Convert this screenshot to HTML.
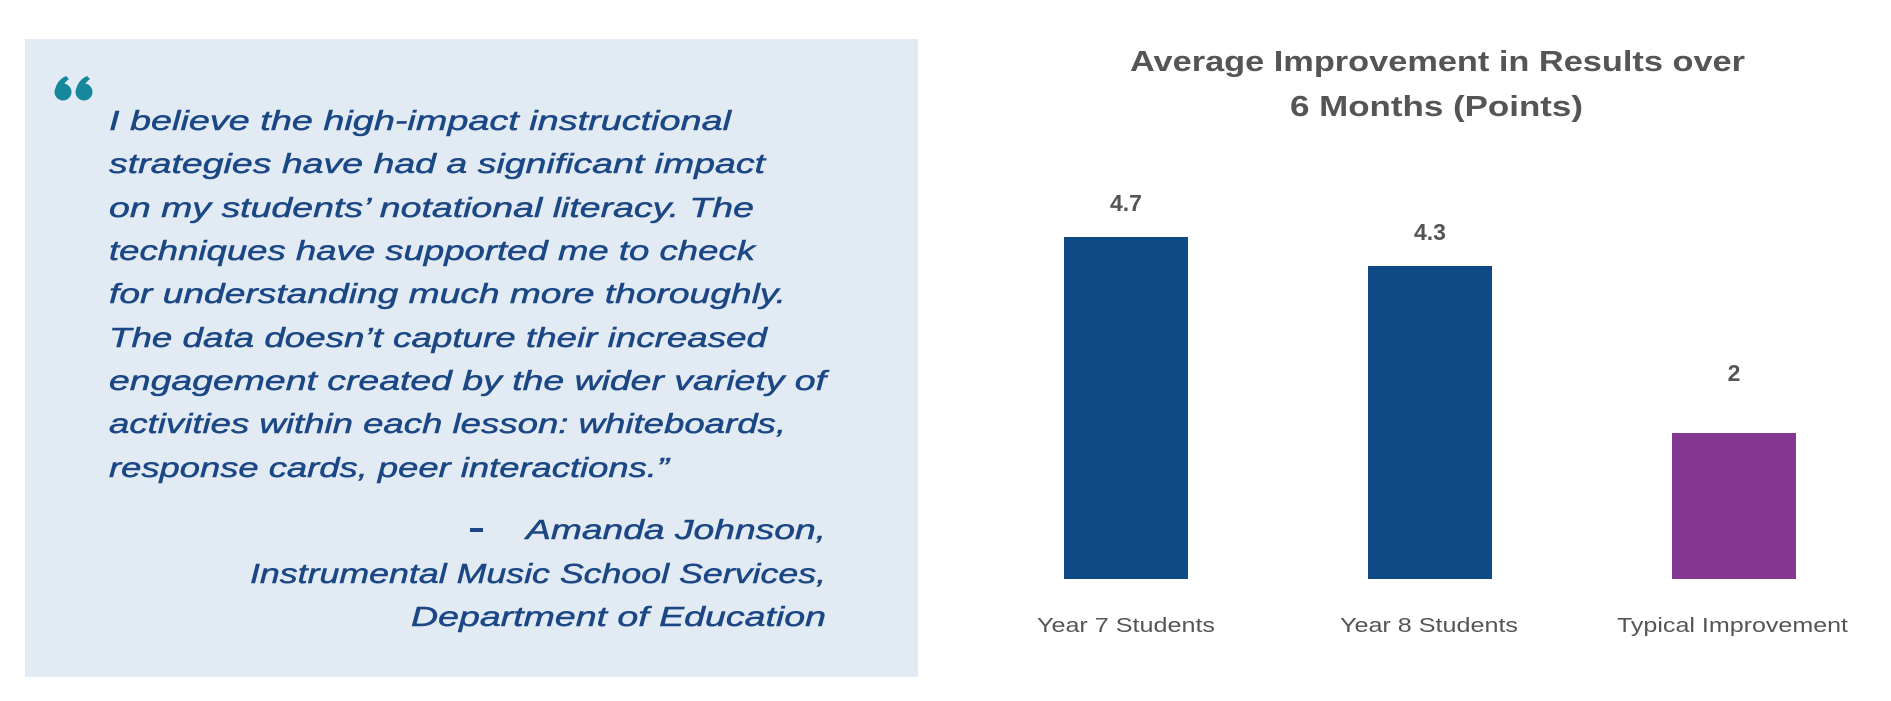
<!DOCTYPE html>
<html><head><meta charset="utf-8"><style>html,body{margin:0;padding:0;background:#fff}svg{display:block}</style></head><body>
<svg width="1891" height="701" viewBox="0 0 1891 701" xmlns="http://www.w3.org/2000/svg">
<rect x="25" y="39" width="893" height="638" fill="#e2ebf3"/>
<g fill="#17879c">
<circle cx="63" cy="92" r="8.5"/>
<path d="M55 90 Q57 80 66 76 L69 79 Q63 83 62 90 Z"/>
<circle cx="84" cy="92" r="8.5"/>
<path d="M76 90 Q78 80 87 76 L90 79 Q84 83 83 90 Z"/>
</g>
<g font-family="Liberation Sans, sans-serif" font-style="italic" font-size="28" fill="#1b4785" stroke="#1b4785" stroke-width="0.5">
<text x="109" y="130" textLength="622" lengthAdjust="spacingAndGlyphs">I believe the high-impact instructional</text>
<text x="109" y="173" textLength="656" lengthAdjust="spacingAndGlyphs">strategies have had a significant impact</text>
<text x="109" y="217" textLength="645" lengthAdjust="spacingAndGlyphs">on my students’ notational literacy. The</text>
<text x="109" y="260" textLength="646" lengthAdjust="spacingAndGlyphs">techniques have supported me to check</text>
<text x="109" y="303" textLength="677" lengthAdjust="spacingAndGlyphs">for understanding much more thoroughly.</text>
<text x="109" y="347" textLength="658" lengthAdjust="spacingAndGlyphs">The data doesn’t capture their increased</text>
<text x="109" y="390" textLength="717" lengthAdjust="spacingAndGlyphs">engagement created by the wider variety of</text>
<text x="109" y="433" textLength="677" lengthAdjust="spacingAndGlyphs">activities within each lesson: whiteboards,</text>
<text x="109" y="477" textLength="560" lengthAdjust="spacingAndGlyphs">response cards, peer interactions.”</text>
<text x="526" y="539" textLength="300" lengthAdjust="spacingAndGlyphs">Amanda Johnson,</text>
<text x="250" y="583" textLength="576" lengthAdjust="spacingAndGlyphs">Instrumental Music School Services,</text>
<text x="411" y="626" textLength="415" lengthAdjust="spacingAndGlyphs">Department of Education</text>
</g>
<rect x="470" y="528" width="13" height="4" fill="#1b4785"/>
<g font-family="Liberation Sans, sans-serif" font-weight="bold" fill="#555">
<text x="1130" y="71" font-size="29" textLength="615" lengthAdjust="spacingAndGlyphs">Average Improvement in Results over</text>
<text x="1290" y="116" font-size="29" textLength="293" lengthAdjust="spacingAndGlyphs">6 Months (Points)</text>
<text x="1126" y="211" font-size="23" text-anchor="middle">4.7</text>
<text x="1430" y="240" font-size="23" text-anchor="middle">4.3</text>
<text x="1734" y="381" font-size="23" text-anchor="middle">2</text>
</g>
<rect x="1064" y="237" width="124" height="342" fill="#0f4a87"/>
<rect x="1368" y="266" width="124" height="313" fill="#0f4a87"/>
<rect x="1672" y="433" width="124" height="146" fill="#843791"/>
<g font-family="Liberation Sans, sans-serif" font-size="20" fill="#555">
<text x="1037" y="632" textLength="178" lengthAdjust="spacingAndGlyphs">Year 7 Students</text>
<text x="1340" y="632" textLength="178" lengthAdjust="spacingAndGlyphs">Year 8 Students</text>
<text x="1617" y="632" textLength="231" lengthAdjust="spacingAndGlyphs">Typical Improvement</text>
</g>
</svg>
</body></html>
